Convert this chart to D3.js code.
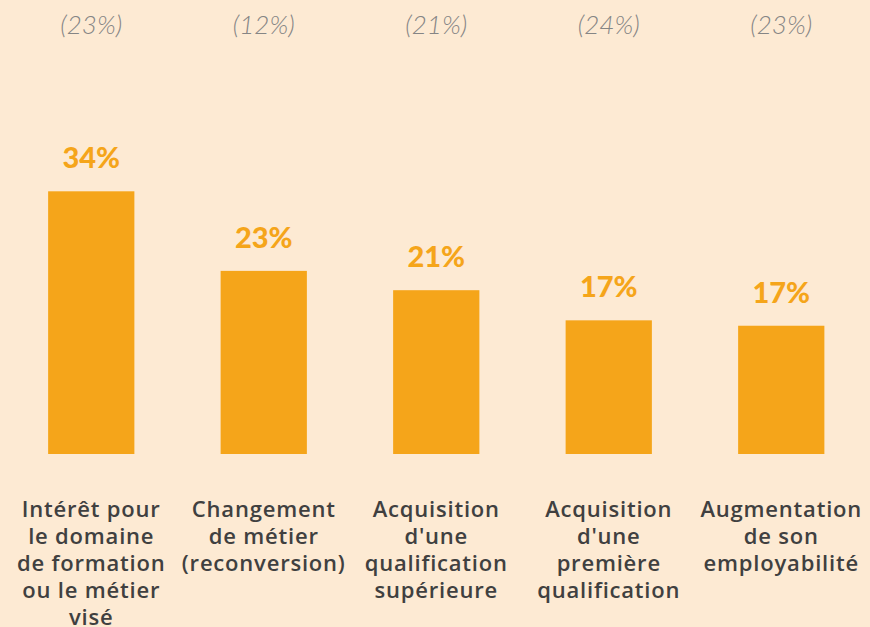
<!DOCTYPE html>
<html><head><meta charset="utf-8">
<script src="https://cdn.jsdelivr.net/npm/d3@7"></script>
<style>
html,body{margin:0;padding:0;background:#fdead3;}
svg{display:block;}
</style></head>
<body>
<svg id="chart" width="870" height="627"></svg>
<script>
const categories = [
  ["Intérêt pour","le domaine","de formation","ou le métier","visé"],
  ["Changement","de métier","(reconversion)"],
  ["Acquisition","d'une","qualification","supérieure"],
  ["Acquisition","d'une","première","qualification"],
  ["Augmentation","de son","employabilité"]
];
const values = [34, 23.7, 21.2, 17.3, 16.6];
const valueLabels = ["34%","23%","21%","17%","17%"];
const compareLabels = ["(23%)","(12%)","(21%)","(24%)","(23%)"];

const svg = d3.select("#chart");
const W = 870, H = 627;
svg.append("rect").attr("width", W).attr("height", H).attr("fill", "#fdead3");

const ids = categories.map((c,i)=>i);
const x = d3.scaleBand().domain(ids).range([5, 867.5]).paddingInner(0.5).paddingOuter(0.25);
const y = d3.scaleLinear().domain([0, 34]).range([454, 191.3]);

const g = svg.append("g");

g.selectAll("rect.bar").data(values).join("rect")
  .attr("class","bar")
  .attr("x",(d,i)=>x(i))
  .attr("width",x.bandwidth())
  .attr("y",d=>y(d))
  .attr("height",d=>y(0)-y(d))
  .attr("fill","#f5a51a");

g.selectAll("text.val").data(values).join("text")
  .attr("class","val")
  .attr("x",(d,i)=>x(i)+x.bandwidth()/2)
  .attr("y",d=>y(d)-23)
  .attr("text-anchor","middle")
  .attr("font-family","Lato, sans-serif")
  .attr("font-weight","900")
  .attr("font-size","29px")
  .attr("fill","#f5a51a")
  .text((d,i)=>valueLabels[i]);

g.selectAll("text.cmp").data(compareLabels).join("text")
  .attr("class","cmp")
  .attr("x",(d,i)=>x(i)+x.bandwidth()/2)
  .attr("y",34)
  .attr("text-anchor","middle")
  .attr("font-family","Lato, sans-serif")
  .attr("font-weight","300")
  .attr("font-style","italic")
  .attr("font-size","26px")
  .attr("fill","#858585")
  .text(d=>d);

const cat = g.selectAll("text.cat").data(categories).join("text")
  .attr("class","cat")
  .attr("text-anchor","middle")
  .attr("font-family","'Open Sans', sans-serif")
  .attr("font-weight","600")
  .attr("font-size","22px")
  .attr("letter-spacing","0.8px")
  .attr("fill","#404040");
cat.each(function(lines,i){
  d3.select(this).selectAll("tspan").data(lines).join("tspan")
    .attr("x", x(i)+x.bandwidth()/2)
    .attr("y", (d,j)=>517+j*27)
    .text(d=>d);
});
</script>
</body></html>
